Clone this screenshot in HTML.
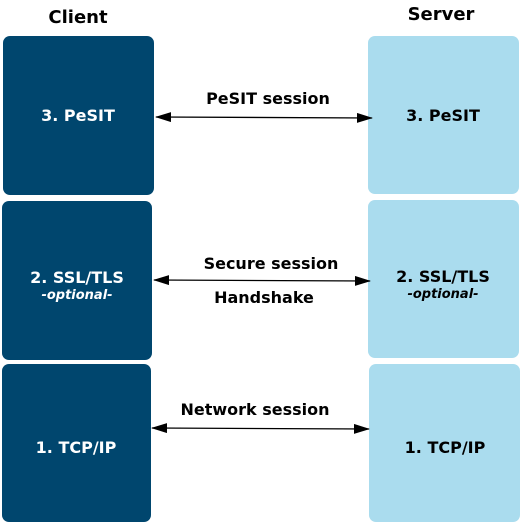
<!DOCTYPE html>
<html><head><style>
body{margin:0;background:#fff;width:521px;height:523px;overflow:hidden}
svg{display:block}
text{font-family:"DejaVu Sans","Liberation Sans",sans-serif;font-weight:bold}
</style></head><body>
<svg width="521" height="523" viewBox="0 0 521 523">
<defs>
<marker id="a" markerWidth="16" markerHeight="10" refX="15" refY="5" orient="auto-start-reverse" markerUnits="userSpaceOnUse">
<path d="M0,0 L16,5 L0,10 Z" fill="#000"/></marker>
</defs>
<text x="78" y="23" font-size="18" text-anchor="middle">Client</text>
<text x="441" y="20" font-size="18" text-anchor="middle">Server</text>
<g fill="#00466e">
<rect x="3" y="36" width="151" height="159" rx="7"/>
<rect x="2" y="201" width="150" height="159" rx="7"/>
<rect x="2" y="364" width="149" height="158" rx="7"/>
</g>
<g fill="#aadcee">
<rect x="368" y="36" width="151" height="158" rx="7"/>
<rect x="368" y="200" width="151" height="158" rx="7"/>
<rect x="369" y="364" width="151" height="158" rx="7"/>
</g>
<g font-size="16" text-anchor="middle">
<text x="78" y="121" fill="#fff">3. PeSIT</text>
<text x="77" y="283" fill="#fff">2. SSL/TLS</text>
<text x="77" y="299" fill="#fff" font-size="13" font-style="italic">-optional-</text>
<text x="76" y="453" fill="#fff">1. TCP/IP</text>
<text x="443" y="121" fill="#000">3. PeSIT</text>
<text x="443" y="282" fill="#000">2. SSL/TLS</text>
<text x="443" y="298" fill="#000" font-size="13" font-style="italic">-optional-</text>
<text x="445" y="453" fill="#000">1. TCP/IP</text>
<text x="268" y="104">PeSIT session</text>
<text x="271" y="269">Secure session</text>
<text x="264" y="303">Handshake</text>
<text x="255" y="415">Network session</text>
</g>
<g stroke="#000" stroke-width="1.3">
<line x1="156" y1="117" x2="372" y2="118" marker-start="url(#a)" marker-end="url(#a)"/>
<line x1="154" y1="280" x2="370" y2="281" marker-start="url(#a)" marker-end="url(#a)"/>
<line x1="152" y1="428" x2="369" y2="429" marker-start="url(#a)" marker-end="url(#a)"/>
</g>
</svg>
</body></html>
